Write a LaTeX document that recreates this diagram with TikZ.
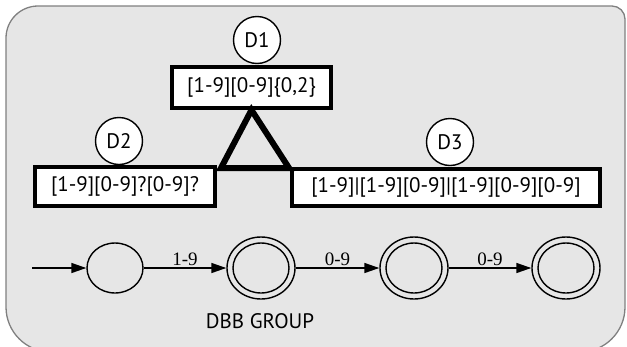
\documentclass[tikz,border=0pt]{standalone}
\usepackage{fontspec}
\setmainfont{Liberation Serif}
\newfontfamily\labelfont{PT Sans}
\usetikzlibrary{shapes.geometric,arrows.meta}
\definecolor{panelfill}{HTML}{E6E6E6}
\definecolor{panelline}{HTML}{808080}
\tikzset{
  regexbox/.style={draw, line width=4pt, fill=white, inner sep=0pt,
    font=\labelfont\fontsize{21}{24}\selectfont},
  tagcircle/.style={draw, circle, line width=1.4pt, fill=white, inner sep=0pt,
    minimum size=47pt, font=\labelfont\fontsize{21}{24}\selectfont},
  state/.style={draw, ellipse, line width=1.4pt, inner sep=0pt,
    minimum width=56pt, minimum height=50pt},
  accepting/.style={draw, ellipse, line width=1.4pt, inner sep=0pt,
    minimum width=68pt, minimum height=62pt},
  trans/.style={line width=1.4pt, -{Triangle[length=15pt,width=10pt]}},
  translabel/.style={above, inner sep=1.5pt, font=\fontsize{19}{22}\selectfont},
}
\begin{document}
\begin{tikzpicture}[x=1pt,y=-1pt]
\useasboundingbox (0,0) rectangle (627,346);
% rounded panel behind everything
\draw[panelline, fill=panelfill, line width=1.3pt]
  (6,38) arc[start angle=180, end angle=270, radius=32]
  -- (612,6) arc[start angle=270, end angle=360, radius=13]
  -- (625,307) arc[start angle=0, end angle=90, radius=45]
  -- (51,352) arc[start angle=90, end angle=180, radius=45]
  -- cycle;

% decomposition tree of the regular expression
\node[regexbox, minimum width=159pt, minimum height=41pt] (b1) at (251.5,87.5) {[1-9][0-9]\{0,2\}};
\node[regexbox, minimum width=180pt, minimum height=39pt] (b2) at (125,186.5) {[1-9][0-9]?[0-9]?};
\node[regexbox, minimum width=308pt, minimum height=37pt] (b3) at (446,187.5) {[1-9]|[1-9][0-9]|[1-9][0-9][0-9]};

\node[tagcircle] (d1) at (257,40) {D1};
\node[tagcircle] (d2) at (119,141) {D2};
\node[tagcircle] (d3) at (450,142) {D3};

% split marker between the parent and the two children
\coordinate (apex) at (b1.south);
\coordinate (baseL) at (221,168);
\coordinate (baseR) at (289,168);
\draw[line width=6pt, line join=miter] (apex) -- (baseR) -- (baseL) -- cycle;

% automaton
\coordinate (start) at (32,268);
\node[state] (s1) at (115,268) {};
\node[accepting] (s2) at (261,268) {};
\node[accepting] (s3) at (414,268) {};
\node[accepting] (s4) at (566,268) {};
\foreach \s in {s2,s3,s4}
  \draw[line width=1.4pt] (\s.center) ellipse[x radius=28, y radius=25];

\draw[trans] (start) -- (s1);
\draw[trans] (s1) -- node[translabel] {1-9} (s2);
\draw[trans] (s2) -- node[translabel] {0-9} (s3);
\draw[trans] (s3) -- node[translabel] {0-9} (s4);

\node[font=\labelfont\fontsize{21}{24}\selectfont] (grp) at (260,321) {DBB GROUP};
\end{tikzpicture}
\end{document}
